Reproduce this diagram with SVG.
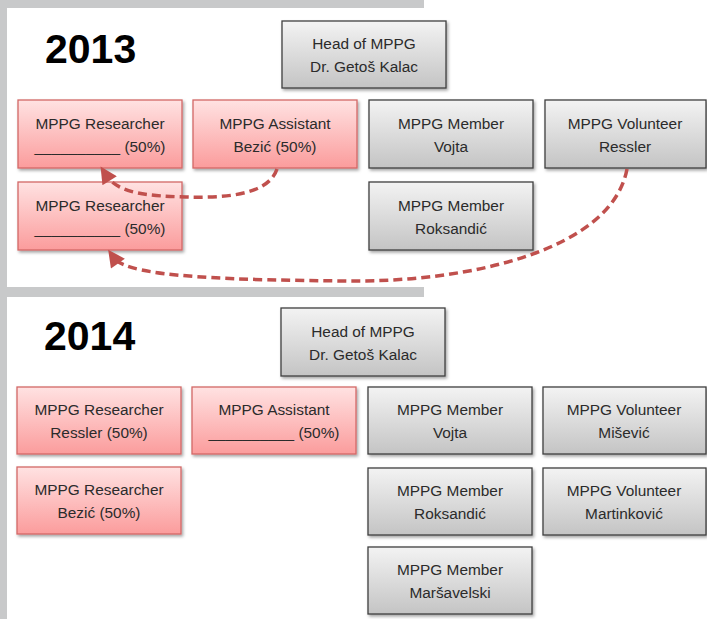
<svg xmlns="http://www.w3.org/2000/svg" width="707" height="619" viewBox="0 0 707 619">
<defs>
<linearGradient id="gRed" x1="0" y1="0" x2="0" y2="1">
<stop offset="0" stop-color="#ffe2e2"/>
<stop offset="1" stop-color="#fb9c9c"/>
</linearGradient>
<linearGradient id="gGray" x1="0" y1="0" x2="0" y2="1">
<stop offset="0" stop-color="#f3f3f3"/>
<stop offset="1" stop-color="#c4c4c4"/>
</linearGradient>
<filter id="sh" x="-10%" y="-10%" width="130%" height="140%">
<feDropShadow dx="1.5" dy="2" stdDeviation="1.5" flood-color="#000" flood-opacity="0.35"/>
</filter>
<marker id="arr" viewBox="0 0 10 10" refX="4" refY="5" markerWidth="20" markerHeight="17" markerUnits="userSpaceOnUse" orient="auto">
<path d="M0,0 L10,5 L0,10 z" fill="#c0504d"/>
</marker>
<style>
.red{fill:url(#gRed);stroke:#d36866;stroke-width:1.3;filter:url(#sh)}
.gray{fill:url(#gGray);stroke:#3f3f3f;stroke-width:1.3;filter:url(#sh)}
.t{font-family:"Liberation Sans",Arial,sans-serif;font-size:15.4px;fill:#2b2b2b;text-anchor:middle}
.yr{font-family:"Liberation Sans",Arial,sans-serif;font-size:41px;font-weight:bold;fill:#000}
.con{fill:none;stroke:#c0504d;stroke-width:3.5;stroke-dasharray:9 5;marker-end:url(#arr)}
</style>
</defs>
<rect x="0" y="0" width="707" height="619" fill="#ffffff"/>
<g id="background">
<rect x="0" y="0" width="424" height="8" fill="#c8c9ca"/>
<rect x="0" y="0" width="7" height="619" fill="#c8c9ca"/>
<rect x="0" y="287" width="424" height="10" fill="#c8c9ca"/>
</g>
<text class="yr" x="45" y="63">2013</text>
<text class="yr" x="44" y="350">2014</text>

<g id="head2013"><rect class="gray" x="282" y="21" width="164" height="67"/><text class="t" x="364" y="49">Head of MPPG</text><text class="t" x="364" y="72">Dr. Getoš Kalac</text></g>
<g id="researcher2013a"><rect class="red" x="18" y="100" width="164" height="68"/><text class="t" x="100" y="129">MPPG Researcher</text><text class="t" x="100" y="152">__________ (50%)</text></g>
<g id="assistant2013"><rect class="red" x="193" y="100" width="164" height="68"/><text class="t" x="275" y="129">MPPG Assistant</text><text class="t" x="275" y="152">Bezić (50%)</text></g>
<g id="member2013vojta"><rect class="gray" x="369" y="100" width="164" height="68"/><text class="t" x="451" y="129">MPPG Member</text><text class="t" x="451" y="152">Vojta</text></g>
<g id="volunteer2013"><rect class="gray" x="545" y="100" width="161" height="68"/><text class="t" x="625" y="129">MPPG Volunteer</text><text class="t" x="625" y="152">Ressler</text></g>
<g id="researcher2013b"><rect class="red" x="18" y="182" width="164" height="68"/><text class="t" x="100" y="211">MPPG Researcher</text><text class="t" x="100" y="234">__________ (50%)</text></g>
<g id="member2013roks"><rect class="gray" x="369" y="182" width="164" height="68"/><text class="t" x="451" y="211">MPPG Member</text><text class="t" x="451" y="234">Roksandić</text></g>

<g id="head2014"><rect class="gray" x="281" y="308" width="164" height="68"/><text class="t" x="363" y="337">Head of MPPG</text><text class="t" x="363" y="360">Dr. Getoš Kalac</text></g>
<g id="researcher2014a"><rect class="red" x="17" y="387" width="164" height="67"/><text class="t" x="99" y="415">MPPG Researcher</text><text class="t" x="99" y="438">Ressler (50%)</text></g>
<g id="assistant2014"><rect class="red" x="192" y="387" width="164" height="67"/><text class="t" x="274" y="415">MPPG Assistant</text><text class="t" x="274" y="438">__________ (50%)</text></g>
<g id="member2014vojta"><rect class="gray" x="368" y="387" width="164" height="67"/><text class="t" x="450" y="415">MPPG Member</text><text class="t" x="450" y="438">Vojta</text></g>
<g id="volunteer2014a"><rect class="gray" x="543" y="387" width="163" height="67"/><text class="t" x="624" y="415">MPPG Volunteer</text><text class="t" x="624" y="438">Mišević</text></g>
<g id="researcher2014b"><rect class="red" x="17" y="467" width="164" height="67"/><text class="t" x="99" y="495">MPPG Researcher</text><text class="t" x="99" y="518">Bezić (50%)</text></g>
<g id="member2014roks"><rect class="gray" x="368" y="468" width="164" height="67"/><text class="t" x="450" y="496">MPPG Member</text><text class="t" x="450" y="519">Roksandić</text></g>
<g id="volunteer2014b"><rect class="gray" x="543" y="468" width="163" height="67"/><text class="t" x="624" y="496">MPPG Volunteer</text><text class="t" x="624" y="519">Martinković</text></g>
<g id="member2014mars"><rect class="gray" x="368" y="547" width="164" height="67"/><text class="t" x="450" y="575">MPPG Member</text><text class="t" x="450" y="598">Maršavelski</text></g>

<g id="connectors">
<path class="con" d="M277,169 C268,196 222,198 186,197 C150,196 118,194 106,175"/>
<path class="con" d="M627,169 C612,250 470,282 350,281 C240,280 128,278 114,258"/>
</g>
</svg>
